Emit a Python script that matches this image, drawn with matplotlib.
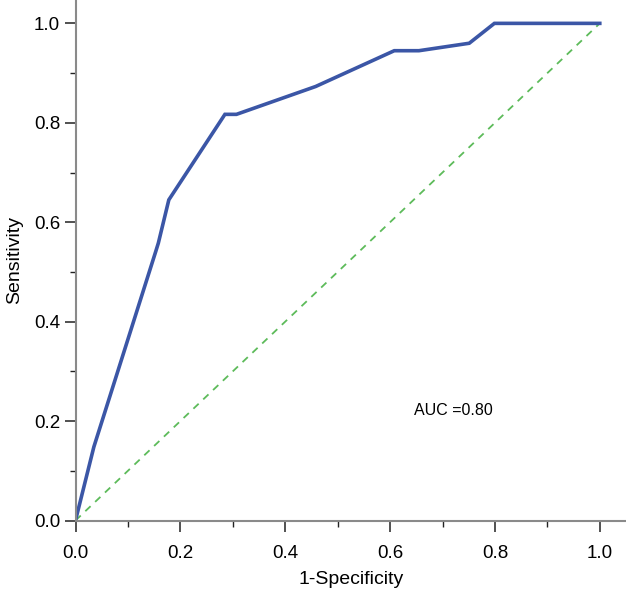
import numpy as np
import matplotlib
matplotlib.use("Agg")
import matplotlib.pyplot as plt
from matplotlib.ticker import MultipleLocator

plt.rcParams['font.family'] = ['Liberation Sans', 'DejaVu Sans']

# ROC curve
fpr = [0.0, 0.035, 0.153, 0.158, 0.178, 0.285, 0.307, 0.458, 0.608, 0.655, 0.751, 0.799, 1.0]
tpr = [0.0, 0.148, 0.541, 0.558, 0.645, 0.817, 0.817, 0.873, 0.945, 0.945, 0.960, 1.0, 1.0]
diag = [0.0, 1.0]
auc_text = "AUC =0.80"

fig = plt.figure(figsize=(6.26, 5.97), dpi=100)
ax = fig.add_axes([75.5 / 626, (597 - 520.5) / 597, 1 - 75.5 / 626, 520.5 / 597])

ax.plot(diag, diag, color='#5dbb5a', lw=1.3, ls=(0, (4, 3.5)))
ax.plot(fpr, tpr, color='#3b56a6', lw=2.6, solid_joinstyle='miter')

ax.text(0.645, 0.222, auc_text, fontsize=11.5, va='center', ha='left')

ax.set_xlim(0, 1.05)
ax.set_ylim(0, 1.047)
ax.xaxis.set_major_locator(MultipleLocator(0.2))
ax.xaxis.set_minor_locator(MultipleLocator(0.1))
ax.yaxis.set_major_locator(MultipleLocator(0.2))
ax.yaxis.set_minor_locator(MultipleLocator(0.1))
ax.xaxis.set_major_formatter(lambda v, p: f"{v:.1f}")
ax.yaxis.set_major_formatter(lambda v, p: f"{v:.1f}")

for s in ['top', 'right']:
    ax.spines[s].set_visible(False)
for s in ['left', 'bottom']:
    ax.spines[s].set_color('#8a8a8a')
    ax.spines[s].set_linewidth(1.5)

ax.tick_params(which='major', length=8, width=1.1, color='#222222', labelsize=13.5)
ax.tick_params(axis='x', which='major', pad=10)
ax.tick_params(axis='y', which='major', pad=3)
ax.tick_params(which='minor', length=4, width=1.0, color='#222222')

ax.set_xlabel("1-Specificity", fontsize=14, labelpad=6)
ax.set_ylabel("Sensitivity", fontsize=14, labelpad=8)

fig.savefig("out.png", dpi=100)
